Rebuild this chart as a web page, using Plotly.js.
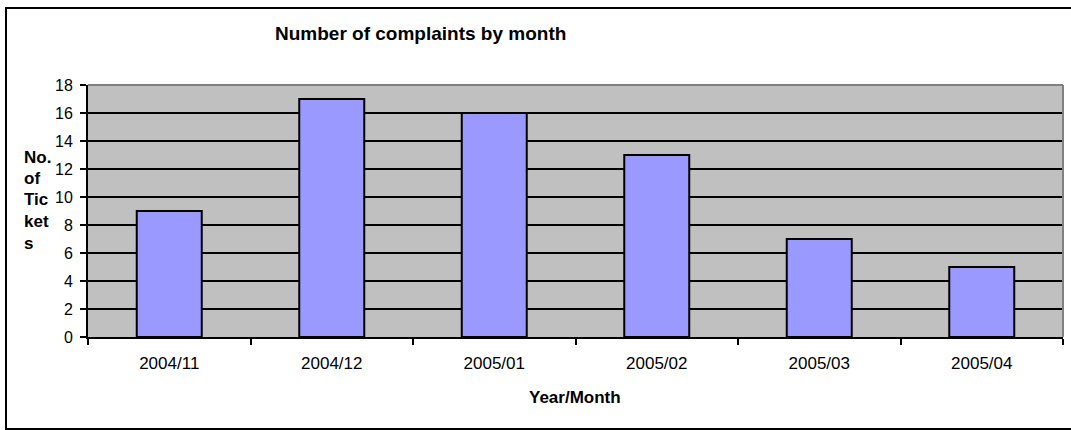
<!DOCTYPE html>
<html>
<head>
<meta charset="utf-8">
<script src="https://cdn.plot.ly/plotly-3.0.1.min.js"></script>
<style>html,body{margin:0;padding:0;background:#fff;}#chart{width:1071px;height:430px;}</style>
</head>
<body>
<div id="chart"></div>
<script>
const months = ["2004/11", "2004/12", "2005/01", "2005/02", "2005/03", "2005/04"];
const tickets = [9, 17, 16, 13, 7, 5];
const yTickValues = [0, 2, 4, 6, 8, 10, 12, 14, 16, 18];
const chartTitle = "Number of complaints by month";
const xTitle = "Year/Month";
const yTitleLines = ["No.", "of", "Tic", "ket", "s"];

const W = 1071, H = 430;
const L = 88, R = 8, T = 85, B = 93;
const pw = W - L - R, ph = H - T - B;
const px = x => (x - L) / pw;
const py = y => (H - B - y) / ph;

const font = "Arial, 'Liberation Sans', sans-serif";

const annotations = [
  {text: "<b>" + chartTitle + "</b>", xref: "paper", yref: "paper", x: px(420), y: py(33),
   xanchor: "center", yanchor: "middle", showarrow: false, font: {family: font, size: 19, color: "#000"}},
  {text: "<b>" + xTitle + "</b>", xref: "paper", yref: "paper", x: px(575), y: py(397),
   xanchor: "center", yanchor: "middle", showarrow: false, font: {family: font, size: 17, color: "#000"}}
];
const lineYs = [157, 178, 199, 221, 243];
yTitleLines.forEach((t, i) => annotations.push({
  text: "<b>" + t + "</b>", xref: "paper", yref: "paper", x: px(22), y: py(lineYs[i]),
  xanchor: "left", yanchor: "middle", showarrow: false, font: {family: font, size: 17, color: "#000"}
}));

const data = [{
  type: "bar", x: months, y: tickets, width: 0.4,
  marker: {color: "#9999ff", line: {color: "#000", width: 2}},
  hoverinfo: "skip"
}];

const layout = {
  width: W, height: H,
  margin: {l: L, r: R, t: T, b: B, pad: 0},
  paper_bgcolor: "#ffffff", plot_bgcolor: "#c0c0c0",
  showlegend: false,
  font: {family: font, size: 16, color: "#000"},
  xaxis: {
    type: "category", tickson: "boundaries", ticks: "outside", ticklen: 6, tickwidth: 2, tickcolor: "#000",
    showline: true, linecolor: "#000", linewidth: 2, showgrid: false, zeroline: false,
    ticklabelstandoff: 10,
    tickfont: {family: font, size: 17, color: "#000"}, fixedrange: true
  },
  yaxis: {
    range: [0, 18], tickvals: yTickValues, ticktext: yTickValues.map(String),
    ticks: "outside", ticklen: 6, tickwidth: 2, tickcolor: "#000",
    showline: true, linecolor: "#000", linewidth: 2,
    showgrid: true, gridcolor: "#000", gridwidth: 2, zeroline: false,
    ticklabelstandoff: 4,
    tickfont: {family: font, size: 16, color: "#000"}, fixedrange: true
  },
  annotations: annotations,
  shapes: [
    {type: "line", xref: "paper", yref: "paper", x0: 0, x1: 1, y0: 1, y1: 1, line: {color: "#808080", width: 2}},
    {type: "line", xref: "paper", yref: "paper", x0: 1, x1: 1, y0: 0, y1: 1, line: {color: "#808080", width: 2}},
    {type: "rect", xref: "paper", yref: "paper", x0: px(6), x1: px(1074), y0: py(8), y1: py(429),
     line: {color: "#000", width: 2}, fillcolor: "rgba(0,0,0,0)", layer: "above"}
  ]
};

Plotly.newPlot("chart", data, layout, {displayModeBar: false, staticPlot: true});
</script>
</body>
</html>
